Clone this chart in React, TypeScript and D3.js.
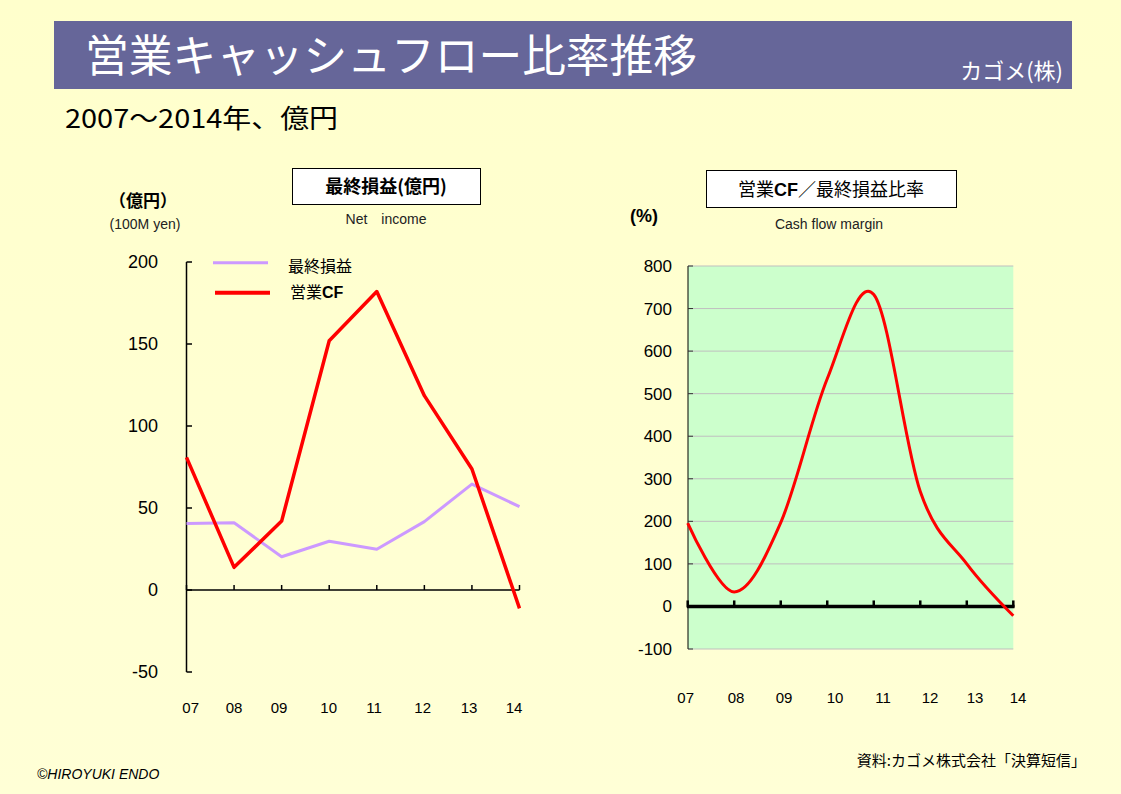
import React from "react";
import * as d3 from "d3";

const years = ["07", "08", "09", "10", "11", "12", "13", "14"];
const netIncome = [40.5, 41, 20.3, 29.7, 24.8, 41.7, 64.6, 50.8];
const operatingCF = [80.9, 13.8, 42, 152, 182, 118.5, 73.8, -11.2];
const cfMargin = [196, 34, 197, 535, 733, 270, 100, -22];
const leftTicks = [200, 150, 100, 50, 0, -50];
const rightTicks = [800, 700, 600, 500, 400, 300, 200, 100, 0, -100];

const JP = "'Noto Sans CJK JP', 'Noto Sans', sans-serif";
const NUM = "'Liberation Sans', Arial, sans-serif";

export default function App() {
  // left chart scales
  const xL = d3.scalePoint<string>().domain(years).range([186.5, 519.5]);
  const yL = d3.scaleLinear().domain([-50, 200]).range([672, 262]);
  // right chart scales
  const xR = d3.scalePoint<string>().domain(years).range([687.7, 1013.3]);
  const yR = d3.scaleLinear().domain([-100, 800]).range([649, 266]);

  const lineL = d3
    .line<number>()
    .x((_, i) => xL(years[i]) as number)
    .y((d) => yL(d));
  const lineR = d3
    .line<number>()
    .x((_, i) => xR(years[i]) as number)
    .y((d) => yR(d))
    .curve(d3.curveCardinal.tension(0));

  const leftLabelX = [190.7, 234, 279, 328.7, 374, 422.7, 469, 514];
  const rightLabelX = [685.7, 736, 784, 835, 883, 930, 975, 1018];

  return (
    <div style={{ position: "absolute", left: 0, top: 0 }}>
      <svg width={1121} height={794} style={{ display: "block" }}>
        <defs>
          <linearGradient id="bg" x1="0" y1="0" x2="0" y2="1">
            <stop offset="0" stopColor="#FFFFCC" />
            <stop offset="1" stopColor="#FFFFD6" />
          </linearGradient>
        </defs>
        <rect x={0} y={0} width={1121} height={794} fill="url(#bg)" />

        {/* Title bar */}
        <rect x={54} y={21} width={1018} height={68} fill="#666699" />
        <text
          x={85}
          y={72}
          fill="#FFFFFF"
          fontFamily={JP}
          fontSize={44}
          textLength={612}
          lengthAdjust="spacingAndGlyphs"
        >
          営業キャッシュフロー比率推移
        </text>
        <text
          x={1063}
          y={79}
          fill="#FFFFFF"
          fontFamily={JP}
          fontSize={22}
          textAnchor="end"
        >
          カゴメ(株)
        </text>
        <text
          x={65}
          y={128}
          fill="#000"
          fontFamily={JP}
          fontSize={26}
          textLength={273}
          lengthAdjust="spacingAndGlyphs"
        >
          2007～2014年、億円
        </text>

        {/* ===== Left chart ===== */}
        <rect x={292.5} y={168.5} width={188} height={36} fill="#FFFFFF" stroke="#000" strokeWidth={1} />
        <text x={386} y={193} textAnchor="middle" fontFamily={JP} fontSize={18} fontWeight="bold">
          最終損益(億円)
        </text>
        <text x={386} y={224} textAnchor="middle" fontFamily={NUM} fontSize={14} fill="#222">
          Net　income
        </text>
        <text x={143} y={207} textAnchor="middle" fontFamily={JP} fontSize={17} fontWeight="bold">
          （億円）
        </text>
        <text x={145} y={229} textAnchor="middle" fontFamily={NUM} fontSize={14} fill="#222">
          (100M yen)
        </text>

        {/* axes */}
        <line x1={186.5} x2={186.5} y1={yL(200)} y2={yL(-50)} stroke="#000" strokeWidth={1.5} />
        {leftTicks.map((t) => (
          <g key={"lt" + t}>
            <line x1={186.5} x2={192} y1={yL(t)} y2={yL(t)} stroke="#000" strokeWidth={1.5} />
            <text
              x={158}
              y={yL(t)}
              dy="0.35em"
              textAnchor="end"
              fontFamily={NUM}
              fontSize={18}
              fill="#000"
            >
              {t}
            </text>
          </g>
        ))}
        <line x1={186.5} x2={519.5} y1={yL(0)} y2={yL(0)} stroke="#000" strokeWidth={1.5} />
        {years.map((y) => (
          <line
            key={"lx" + y}
            x1={xL(y) as number}
            x2={xL(y) as number}
            y1={yL(0)}
            y2={yL(0) - 5}
            stroke="#000"
            strokeWidth={1.5}
          />
        ))}
        {years.map((y, i) => (
          <text
            key={"lxl" + y}
            x={leftLabelX[i]}
            y={708}
            dy="0.35em"
            textAnchor="middle"
            fontFamily={NUM}
            fontSize={15}
          >
            {y}
          </text>
        ))}

        <path d={lineL(netIncome) || ""} fill="none" stroke="#CC99FF" strokeWidth={3} strokeLinejoin="round" />
        <path d={lineL(operatingCF) || ""} fill="none" stroke="#FF0000" strokeWidth={3.5} strokeLinejoin="round" />

        {/* legend */}
        <line x1={213} x2={268} y1={262.7} y2={262.7} stroke="#CC99FF" strokeWidth={3} />
        <text x={288} y={272} fontFamily={JP} fontSize={16}>
          最終損益
        </text>
        <line x1={215} x2={270} y1={292.7} y2={292.7} stroke="#FF0000" strokeWidth={4} />
        <text x={290} y={298} fontFamily={JP} fontSize={16}>
          営業
          <tspan fontFamily={NUM} fontWeight="bold">CF</tspan>
        </text>

        {/* ===== Right chart ===== */}
        <rect x={706.5} y={170.5} width={250} height={37} fill="#FFFFFF" stroke="#000" strokeWidth={1} />
        <text x={831} y={196} textAnchor="middle" fontFamily={JP} fontSize={18}>
          営業<tspan fontFamily={NUM} fontWeight="bold">CF</tspan>／最終損益比率
        </text>
        <text x={829} y={229} textAnchor="middle" fontFamily={NUM} fontSize={14} fill="#222">
          Cash flow margin
        </text>
        <text x={644} y={222} textAnchor="middle" fontFamily={NUM} fontSize={18} fontWeight="bold">
          (%)
        </text>

        <rect x={688} y={yR(800)} width={1013.3 - 688} height={yR(-100) - yR(800)} fill="#CCFFCC" />
        {rightTicks
          .filter((t) => t !== 0)
          .map((t) => (
            <line
              key={"rg" + t}
              x1={688}
              x2={1013.3}
              y1={yR(t)}
              y2={yR(t)}
              stroke="#BFBFBF"
              strokeWidth={1}
            />
          ))}
        <line x1={688} x2={688} y1={yR(800)} y2={yR(-100)} stroke="#000" strokeWidth={1} />
        {rightTicks.map((t) => (
          <g key={"rt" + t}>
            <line x1={688} x2={693} y1={yR(t)} y2={yR(t)} stroke="#333" strokeWidth={1} />
            <text
              x={672}
              y={yR(t)}
              dy="0.35em"
              textAnchor="end"
              fontFamily={NUM}
              fontSize={17}
            >
              {t}
            </text>
          </g>
        ))}
        <line x1={687} x2={1014.5} y1={yR(0)} y2={yR(0)} stroke="#000" strokeWidth={3.5} />
        {years.map((y) => (
          <line
            key={"rx" + y}
            x1={xR(y) as number}
            x2={xR(y) as number}
            y1={yR(0) + 1}
            y2={yR(0) - 6}
            stroke="#000"
            strokeWidth={2.5}
          />
        ))}
        {years.map((y, i) => (
          <text
            key={"rxl" + y}
            x={rightLabelX[i]}
            y={698}
            dy="0.35em"
            textAnchor="middle"
            fontFamily={NUM}
            fontSize={15}
          >
            {y}
          </text>
        ))}
        <path d={lineR(cfMargin) || ""} fill="none" stroke="#FF0000" strokeWidth={3} strokeLinejoin="round" />

        {/* footer */}
        <text x={37} y={779} fontFamily={NUM} fontSize={14} fontStyle="italic">
          ©HIROYUKI  ENDO
        </text>
        <text x={1086} y={766} textAnchor="end" fontFamily={JP} fontSize={15}>
          資料:カゴメ株式会社「決算短信」
        </text>
      </svg>
    </div>
  );
}
